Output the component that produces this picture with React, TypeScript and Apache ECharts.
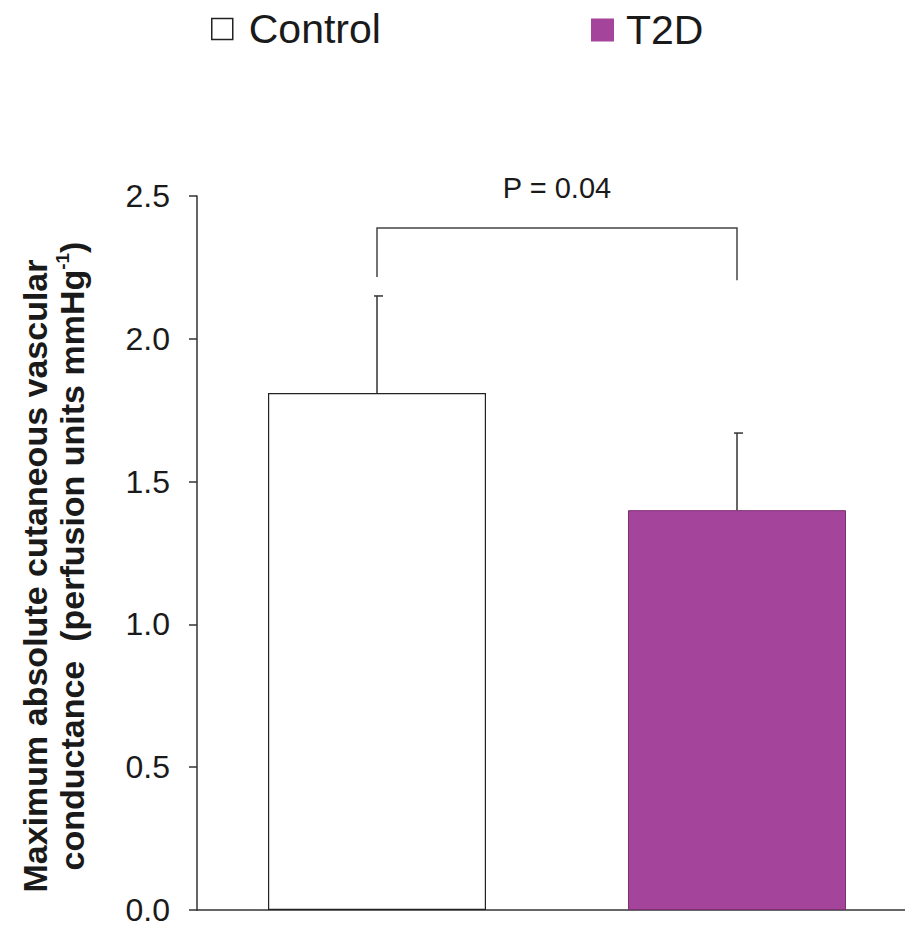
import React, { useEffect, useRef } from "react";
import * as echarts from "echarts";

const categories = ["Control", "T2D"];
const controlValues = [1.81, "-"];
const t2dValues = ["-", 1.4];
const errorBars = [
  [0, 1.81, 2.15],
  [1, 1.4, 1.67],
];
// [leftIndex, rightIndex, leftLegY, topY, rightLegY]
const bracket = [[0, 1, 2.216, 2.388, 2.205]];
const pLabel = "P = 0.04";
const pLabelY = 2.528;
const yTicks = { min: 0, max: 2.5, interval: 0.5 };

const FONT = "Liberation Sans, Arial, Helvetica, sans-serif";
const PURPLE = "#a4449a";

export default function App() {
  const ref = useRef<HTMLDivElement>(null);
  useEffect(() => {
    if (!ref.current) return;
    const chart = echarts.init(ref.current, undefined, { renderer: "svg" });
    const option: any = {
      animation: false,
      backgroundColor: "#ffffff",
      textStyle: { fontFamily: FONT },
      grid: {
        left: 197,
        top: 196,
        width: 720,
        height: 714,
        containLabel: false,
        outerBoundsMode: "none",
      },
      legend: [
        {
          data: ["Control"],
          left: 211,
          top: 7,
          padding: 0,
          icon: "rect",
          itemWidth: 21,
          itemHeight: 21,
          itemStyle: { color: "#ffffff", borderColor: "#222", borderWidth: 1.5 },
          textStyle: {
            fontSize: 41,
            color: "#1a1a1a",
            fontFamily: FONT,
            padding: [0, 0, 0, 11],
            lineHeight: 44,
          },
        },
        {
          data: ["T2D"],
          left: 591,
          top: 8,
          padding: 0,
          icon: "rect",
          itemWidth: 23,
          itemHeight: 23,
          itemStyle: { color: PURPLE, borderWidth: 0 },
          textStyle: {
            fontSize: 41,
            color: "#1a1a1a",
            fontFamily: FONT,
            padding: [0, 0, 0, 7],
            lineHeight: 44,
          },
        },
      ],
      xAxis: {
        type: "category",
        data: categories,
        boundaryGap: true,
        axisLine: { show: true, lineStyle: { color: "#333", width: 1.5 } },
        axisTick: { show: false },
        axisLabel: { show: false },
      },
      yAxis: {
        type: "value",
        min: yTicks.min,
        max: yTicks.max,
        interval: yTicks.interval,
        axisLine: { show: true, lineStyle: { color: "#333", width: 1.5 } },
        axisTick: { show: true, length: 8, lineStyle: { color: "#333", width: 1.5 } },
        splitLine: { show: false },
        axisLabel: {
          margin: 27,
          fontSize: 32,
          color: "#1a1a1a",
          fontFamily: FONT,
          formatter: (v: number) => v.toFixed(1),
        },
      },
      series: [
        {
          name: "Control",
          type: "bar",
          data: controlValues,
          barWidth: 218,
          barGap: "-100%",
          itemStyle: { color: "#ffffff", borderColor: "#222", borderWidth: 1.2 },
        },
        {
          name: "T2D",
          type: "bar",
          data: t2dValues,
          barWidth: 218,
          barGap: "-100%",
          itemStyle: { color: PURPLE, borderColor: "#7d2f74", borderWidth: 1 },
        },
        {
          type: "custom",
          data: errorBars,
          z: 5,
          renderItem: (params: any, api: any) => {
            const base = api.coord([api.value(0), api.value(1)]);
            const top = api.coord([api.value(0), api.value(2)]);
            const x = base[0];
            return {
              type: "group",
              children: [
                {
                  type: "line",
                  shape: { x1: x, y1: base[1], x2: x, y2: top[1] },
                  style: { stroke: "#333", lineWidth: 1.5 },
                },
                {
                  type: "line",
                  shape: { x1: x - 3, y1: top[1], x2: x + 6, y2: top[1] },
                  style: { stroke: "#333", lineWidth: 1.5 },
                },
              ],
            };
          },
        },
        {
          type: "custom",
          data: bracket,
          z: 5,
          renderItem: (params: any, api: any) => {
            const l = api.coord([api.value(0), api.value(2)]);
            const lt = api.coord([api.value(0), api.value(3)]);
            const rt = api.coord([api.value(1), api.value(3)]);
            const r = api.coord([api.value(1), api.value(4)]);
            const p = api.coord([api.value(0), pLabelY]);
            return {
              type: "group",
              children: [
                {
                  type: "polyline",
                  shape: { points: [l, lt, rt, r] },
                  style: { stroke: "#444", lineWidth: 1.5, fill: null },
                },
                {
                  type: "text",
                  x: (lt[0] + rt[0]) / 2,
                  y: p[1],
                  style: {
                    text: pLabel,
                    fontSize: 29,
                    fontFamily: FONT,
                    fill: "#1a1a1a",
                    align: "center",
                    verticalAlign: "middle",
                  },
                },
              ],
            };
          },
        },
      ],
      graphic: [
        {
          type: "text",
          x: 35,
          y: 576,
          rotation: Math.PI / 2,
          style: {
            text: "Maximum absolute cutaneous vascular",
            fontSize: 34,
            fontWeight: "bold",
            fontFamily: FONT,
            fill: "#1a1a1a",
            align: "center",
            verticalAlign: "middle",
          },
        },
        {
          type: "text",
          x: 72,
          y: 556,
          rotation: Math.PI / 2,
          style: {
            text: "conductance  (perfusion units mmHg{sup|-1}{n|)}",
            fontSize: 34,
            fontWeight: "bold",
            fontFamily: FONT,
            fill: "#1a1a1a",
            align: "center",
            verticalAlign: "middle",
            rich: {
              sup: {
                fontSize: 19,
                fontWeight: "bold",
                fontFamily: FONT,
                fill: "#1a1a1a",
                verticalAlign: "top",
                lineHeight: 38,
                padding: [0, 0, 15, 0],
              },
              n: {
                fontSize: 34,
                fontWeight: "bold",
                fontFamily: FONT,
                fill: "#1a1a1a",
              },
            },
          },
        },
      ],
    };
    chart.setOption(option);
    return () => chart.dispose();
  }, []);
  return (
    <div
      ref={ref}
      style={{ position: "fixed", left: 0, top: 0, width: 905, height: 929, background: "#fff" }}
    />
  );
}
